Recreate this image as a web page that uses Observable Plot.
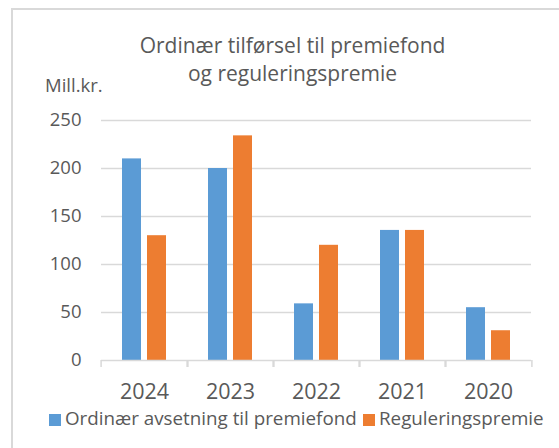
<!DOCTYPE html>
<html>
<head>
<meta charset="utf-8">
<script src="https://cdn.jsdelivr.net/npm/d3@7"></script>
<script src="https://cdn.jsdelivr.net/npm/@observablehq/plot@0.6"></script>
<style>
  html, body { margin: 0; padding: 0; background: #fff; overflow: hidden; }
  #wrap { position: relative; width: 559px; height: 448px; overflow: hidden; font-family: "Open Sans", Lato, sans-serif; color: #595959; }
  #border { position: absolute; left: 11px; top: 8px; width: 700px; height: 600px; border-left: 2px solid #d9d9d9; border-top: 2px solid #d9d9d9; }
  #chart { position: absolute; left: 0; top: 0; }
  #title { position: absolute; left: 0; width: 585px; top: 31px; text-align: center; font-size: 21px; line-height: 28px; }
  #unit { position: absolute; left: 45px; top: 75px; font-size: 18.5px; line-height: 20px; }
  .leg { position: absolute; top: 407px; font-size: 18.8px; line-height: 22px; white-space: nowrap; }
  .sw { display: inline-block; width: 12px; height: 12px; margin-right: 4px; vertical-align: -1px; }
</style>
</head>
<body>
<div id="wrap">
  <div id="border"></div>
  <div id="chart"></div>
  <div id="title">Ordinær tilførsel til premiefond<br>og reguleringspremie</div>
  <div id="unit">Mill.kr.</div>
  <div id="legend"></div>
</div>
<script>
const years = ["2024", "2023", "2022", "2021", "2020"];
const seriesNames = ["Ordinær avsetning til premiefond", "Reguleringspremie"];
const ordinaer = [210, 200, 59, 135.5, 55];
const regulering = [130, 234, 120, 135.5, 31];
const yTicks = [0, 50, 100, 150, 200, 250];
const colors = ["#5B9BD5", "#ED7D31"];

const data = years.flatMap((yr, i) => [
  {year: yr, series: seriesNames[0], value: ordinaer[i]},
  {year: yr, series: seriesNames[1], value: regulering[i]}
]);

const W = 559, H = 448, mL = 99, mR = 26, mT = 120, mB = 88;
const facetW = (W - mL - mR) / years.length;

const chart = Plot.plot({
  width: W, height: H,
  marginLeft: mL, marginRight: mR, marginTop: mT, marginBottom: mB,
  style: {fontFamily: "'Open Sans', Lato, sans-serif", color: "#595959", background: "transparent", overflow: "visible"},
  fx: {domain: years, padding: 0},
  x: {domain: seriesNames, paddingInner: 0.24, paddingOuter: 0.83, axis: null},
  y: {domain: [0, 250], axis: null},
  color: {domain: seriesNames, range: colors},
  marks: [
    Plot.gridY(yTicks.filter(d => d > 0), {stroke: "#d9d9d9", strokeOpacity: 1, strokeWidth: 1.5}),
    Plot.axisY(yTicks, {tickSize: 0, tickPadding: 20, fontSize: 18.5, label: null}),
    Plot.barY(data, {fx: "year", x: "series", y: "value", fill: "series"}),
    Plot.ruleY([0], {stroke: "#d9d9d9", strokeWidth: 1.5}),
    Plot.axisFx({anchor: "bottom", tickSize: 0, tickPadding: 23, fontSize: 21.5, label: null}),
    Plot.axisFx({anchor: "bottom", tickSize: 7, text: null, dx: -facetW / 2, stroke: "#d9d9d9", strokeWidth: 1.5, strokeOpacity: 1, label: null}),
    Plot.axisFx(years.slice(-1), {anchor: "bottom", tickSize: 7, text: null, dx: facetW / 2, stroke: "#d9d9d9", strokeWidth: 1.5, strokeOpacity: 1, label: null})
  ]
});
document.getElementById("chart").appendChild(chart);

const legend = document.getElementById("legend");
const legLeft = [49, 363];
seriesNames.forEach((name, i) => {
  const item = document.createElement("div");
  item.className = "leg";
  item.style.left = legLeft[i] + "px";
  const sw = document.createElement("span");
  sw.className = "sw";
  sw.style.background = colors[i];
  item.appendChild(sw);
  item.appendChild(document.createTextNode(name));
  legend.appendChild(item);
});
</script>
</body>
</html>
